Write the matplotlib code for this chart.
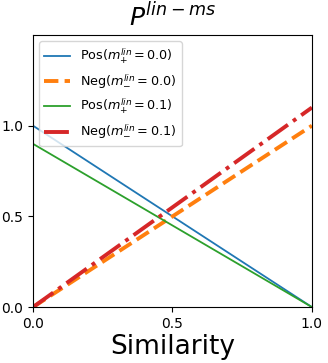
import matplotlib
matplotlib.use('Agg')
import matplotlib.pyplot as plt
import numpy as np

sim = [0.0, 1.0]
pos_m00 = [1.0, 0.0]
neg_m00 = [0.0, 1.0]
pos_m01 = [0.9, 0.0]
neg_m01 = [0.0, 1.1]

fig = plt.figure(figsize=(3.28, 3.63), dpi=100)
ax = fig.add_axes([0.1006, 0.154, 0.8504, 0.7496])

ax.plot(sim, pos_m00, color='tab:blue', lw=1.3, label=r'Pos($m_{+}^{lin}=0.0$)')
ax.plot(sim, neg_m00, color='tab:orange', lw=2.8, ls='--', label=r'Neg($m_{-}^{lin}=0.0$)')
ax.plot(sim, pos_m01, color='tab:green', lw=1.3, label=r'Pos($m_{+}^{lin}=0.1$)')
ax.plot(sim, neg_m01, color='tab:red', lw=2.8, ls='-.', label=r'Neg($m_{-}^{lin}=0.1$)')

ax.set_xlim(0, 1)
ax.set_ylim(0, 1.5)
ax.set_xticks([0, 0.5, 1.0])
ax.set_yticks([0, 0.5, 1.0])
ax.tick_params(labelsize=10)
ax.set_xlabel('Similarity', fontsize=19, labelpad=2)
ax.set_title(r'$P^{lin-ms}$', fontsize=18, pad=6)
ax.legend(loc='upper left', fontsize=9.2)

fig.savefig('out.png', dpi=100)
